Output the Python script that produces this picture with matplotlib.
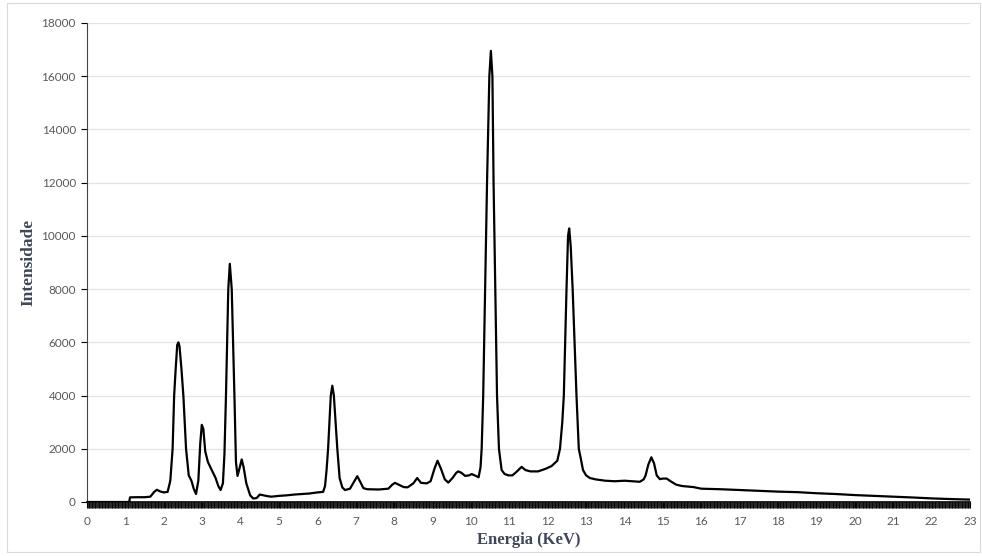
import matplotlib
matplotlib.use("Agg")
import matplotlib.pyplot as plt
from matplotlib.ticker import MultipleLocator
from matplotlib.patches import Rectangle

energy = [0.0, 1.10, 1.12, 1.3, 1.5, 1.65, 1.75, 1.82, 1.9, 2.0, 2.1, 2.17, 2.23, 2.27, 2.31, 2.35,
          2.38, 2.41, 2.46, 2.51, 2.58, 2.65, 2.72, 2.78, 2.84, 2.9, 2.95, 2.99, 3.03, 3.08, 3.15,
          3.25, 3.35, 3.42, 3.48, 3.54, 3.58, 3.62, 3.68, 3.72, 3.77, 3.84, 3.88, 3.92, 3.97, 4.03,
          4.08, 4.15, 4.25, 4.33, 4.42, 4.5, 4.6, 4.7, 4.8, 5.0, 5.2, 5.4, 5.6, 5.8, 6.0, 6.15, 6.2,
          6.24, 6.28, 6.35, 6.39, 6.43, 6.52, 6.58, 6.65, 6.72, 6.85, 6.95, 7.04, 7.12, 7.2, 7.3,
          7.6, 7.85, 7.95, 8.02, 8.12, 8.25, 8.35, 8.5, 8.6, 8.7, 8.85, 8.95, 9.05, 9.13, 9.22, 9.32,
          9.41, 9.52, 9.62, 9.67, 9.75, 9.85, 9.95, 10.02, 10.1, 10.2, 10.25, 10.28, 10.32, 10.42,
          10.48, 10.52, 10.56, 10.59, 10.68, 10.73, 10.8, 10.88, 10.98, 11.08, 11.2, 11.32, 11.42,
          11.55, 11.75, 11.95, 12.1, 12.25, 12.32, 12.38, 12.42, 12.49, 12.53, 12.56, 12.6, 12.65,
          12.75, 12.81, 12.86, 12.92, 13.0, 13.1, 13.25, 13.5, 13.75, 14.0, 14.2, 14.4, 14.5, 14.55,
          14.62, 14.7, 14.77, 14.84, 14.92, 15.0, 15.1, 15.2, 15.35, 15.5, 15.8, 16.0, 16.5, 17.0,
          17.5, 18.0, 18.5, 19.0, 19.5, 20.0, 20.5, 21.0, 21.5, 22.0, 22.5, 23.0]

intensity = [0, 0, 175, 180, 180, 200, 380, 460, 400, 360, 380, 800, 2000, 4000, 5000, 5900,
             6000, 5850, 5000, 4000, 2000, 1000, 800, 500, 300, 800, 2200, 2900, 2750, 1900, 1500,
             1200, 900, 600, 450, 700, 1800, 4000, 8000, 8950, 8000, 4000, 1500, 980, 1250, 1600,
             1300, 700, 250, 130, 150, 280, 250, 220, 200, 230, 250, 280, 300, 320, 360, 380, 600,
             1200, 2000, 4000, 4370, 4000, 2000, 900, 550, 450, 500, 750, 970, 750, 520, 480,
             470, 500, 650, 720, 650, 560, 550, 700, 900, 720, 700, 780, 1250, 1550, 1250, 850,
             730, 900, 1100, 1150, 1100, 980, 1000, 1050, 1000, 930, 1300, 2000, 4000, 12000,
             16000, 16950, 16000, 12000, 4000, 2000, 1200, 1050, 1000, 1000, 1150, 1320, 1200,
             1150, 1150, 1250, 1350, 1550, 2000, 3000, 4000, 8000, 10000, 10280, 9600, 8000,
             4000, 2000, 1650, 1200, 1000, 900, 850, 800, 780, 800, 780, 760, 850, 1000,
             1400, 1680, 1450, 1000, 860, 880, 880, 780, 650, 600, 560, 500, 480, 450,
             420, 390, 370, 330, 300, 260, 230, 200, 170, 135, 110, 90]

x_ticks = list(range(0, 24))
y_ticks = list(range(0, 18001, 2000))

fig = plt.figure(figsize=(9.82, 5.56), dpi=100)
fig.patches.append(Rectangle((7/982, 4/556), 973/982, 549/556, transform=fig.transFigure,
                             fill=False, edgecolor="#D9D9D9", linewidth=0.8))
ax = fig.add_axes([87/982, (556-502)/556, (970-87)/982, (502-23)/556])

ax.plot(energy, intensity, color="black", linewidth=1.6, zorder=3)

ax.set_xlim(0, 23)
ax.set_ylim(0, 18000)
ax.set_xticks(x_ticks)
ax.set_yticks(y_ticks)
ax.xaxis.set_minor_locator(MultipleLocator(0.02))
ax.tick_params(axis="x", which="minor", length=4, width=0.6, color="black", direction="out")
ax.tick_params(axis="x", which="major", length=4, width=0.8, color="black", pad=6)
ax.tick_params(axis="y", which="major", length=4, width=0.8, color="black", pad=4)
ax.grid(axis="y", color="#E3E3E3", linewidth=0.9, zorder=0)
ax.set_axisbelow(True)

for side in ("top", "right"):
    ax.spines[side].set_visible(False)
ax.spines["left"].set_color("#444444")
ax.spines["bottom"].set_color("black")
ax.spines["bottom"].set_linewidth(1.2)

for lbl in ax.get_xticklabels() + ax.get_yticklabels():
    lbl.set_fontfamily("Lato")
    lbl.set_fontsize(8.5)
    lbl.set_color("#595959")

title_color = "#3E4756"
ax.set_xlabel("Energia (KeV)", fontfamily="Liberation Serif", fontweight="bold",
              fontsize=12, color=title_color, labelpad=4)
ax.set_ylabel("Intensidade", fontfamily="Liberation Serif", fontweight="bold",
              fontsize=12.5, color=title_color, labelpad=4)

fig.savefig("out.png", dpi=100)
